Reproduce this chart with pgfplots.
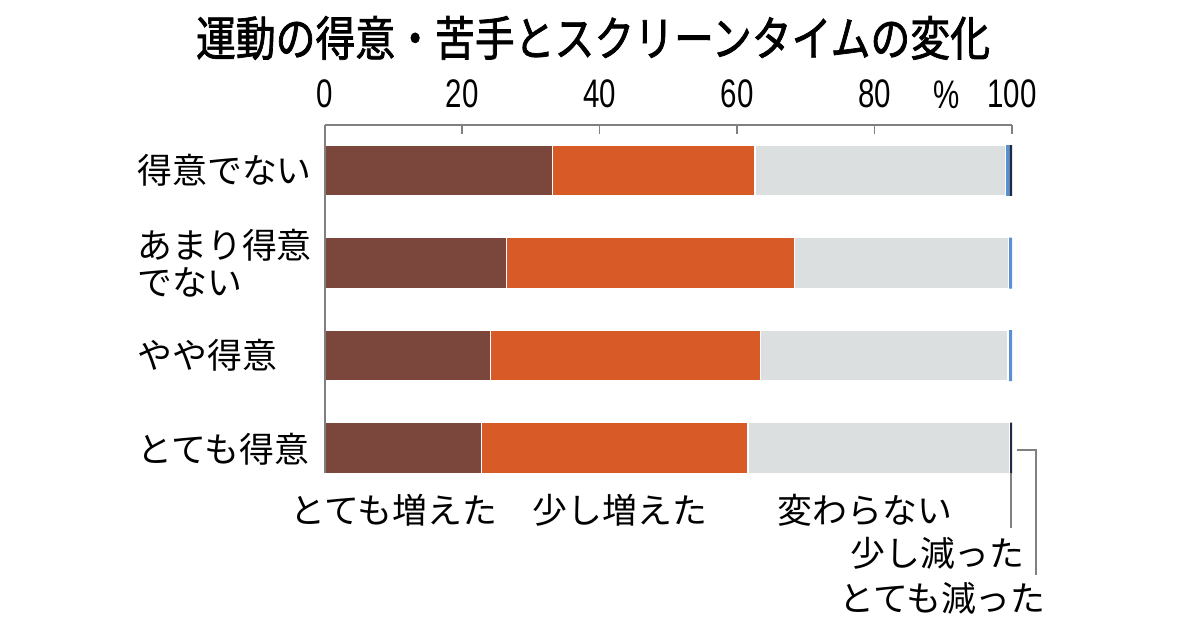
\documentclass[border=0pt]{standalone}
\usepackage{fontspec}
\setmainfont{Noto Sans CJK JP}
\newfontfamily\titlefont[FakeStretch=0.84,FakeBold=1.5]{Noto Sans CJK JP}
\newfontfamily\numfont[FakeStretch=0.74]{Liberation Sans}
\usepackage{pgfplots}
\pgfplotsset{compat=1.18}

\definecolor{cbrown}{HTML}{7B463B}
\definecolor{corange}{HTML}{D85A27}
\definecolor{cgray}{HTML}{DCDFE0}
\definecolor{cblue}{HTML}{5B8FD3}
\definecolor{cnavy}{HTML}{1E2A48}
\definecolor{axisgray}{HTML}{808080}

\newcommand\catfont{\fontsize{17.5}{18.5}\selectfont}

\begin{document}
\begin{tikzpicture}[x=0.5bp,y=0.5bp]
\useasboundingbox (0,0) rectangle (1200,630);
\coordinate (origin) at (324.5,505);

\begin{axis}[
  at={(origin)}, anchor=north west,
  scale only axis, width=343.75bp, height=174bp,
  xbar stacked, bar width=0.551,
  xmin=0, xmax=100, ymin=0.508, ymax=4.27, y dir=reverse,
  axis x line*=top, axis y line*=left,
  axis line style={draw=axisgray, line width=1bp},
  axis on top,
  xtick={0,20,40,60,80,100}, xticklabels={0,20,40,60,80,100},
  ytick=\empty,
  tick align=inside, major tick length=4.5bp,
  tick style={draw=axisgray, line width=0.9bp},
  xticklabel style={font=\numfont\fontsize{20}{21}\selectfont,
    anchor=south, inner sep=0pt, yshift=8.5bp},
  clip=false,
]
% とても増えた / 少し増えた / 変わらない / 少し減った / とても減った
\addplot[fill=cbrown, draw=white, line width=0.6bp]
  coordinates {(33.2,1) (26.5,2) (24.2,3) (22.8,4)};
\addplot[fill=corange, draw=white, line width=0.6bp]
  coordinates {(29.4,1) (41.9,2) (39.2,3) (38.8,4)};
\addplot[fill=cgray, draw=white, line width=0.6bp]
  coordinates {(36.5,1) (31.1,2) (36.0,3) (38.0,4)};
\addplot[fill=cblue, draw=none]
  coordinates {(0.5,1) (0.5,2) (0.6,3) (0.1,4)};
\addplot[fill=cnavy, draw=none]
  coordinates {(0.4,1) (0.0,2) (0.0,3) (0.3,4)};
\end{axis}

% title
\node[font=\titlefont\fontsize{23.8}{25}\selectfont] at (593,592)
  {運動の得意・苦手とスクリーンタイムの変化};
\node[font=\numfont\fontsize{20}{21}\selectfont] at (947,535) {\%};

% category labels
\node[anchor=west, inner sep=0pt, font=\catfont] at (137,460) {得意でない};
\node[anchor=west, inner sep=0pt, font=\catfont, align=left] at (137,367) {あまり得意\\でない};
\node[anchor=west, inner sep=0pt, font=\catfont] at (137,275) {やや得意};
\node[anchor=west, inner sep=0pt, font=\catfont] at (137,181) {とても得意};

% series labels
\node[font=\catfont] at (394,120) {とても増えた};
\node[font=\catfont] at (620,120) {少し増えた};
\node[font=\catfont] at (865,120) {変わらない};
\node[anchor=east, inner sep=0pt, font=\catfont] at (1025,77) {少し減った};
\node[anchor=east, inner sep=0pt, font=\catfont] at (1046,32) {とても減った};

% leader lines
\draw[axisgray, line width=0.8bp] (1011,157) -- (1011,102);
\draw[axisgray, line width=0.8bp] (1017,180) -- (1036,180) -- (1036,55);
\end{tikzpicture}
\end{document}
